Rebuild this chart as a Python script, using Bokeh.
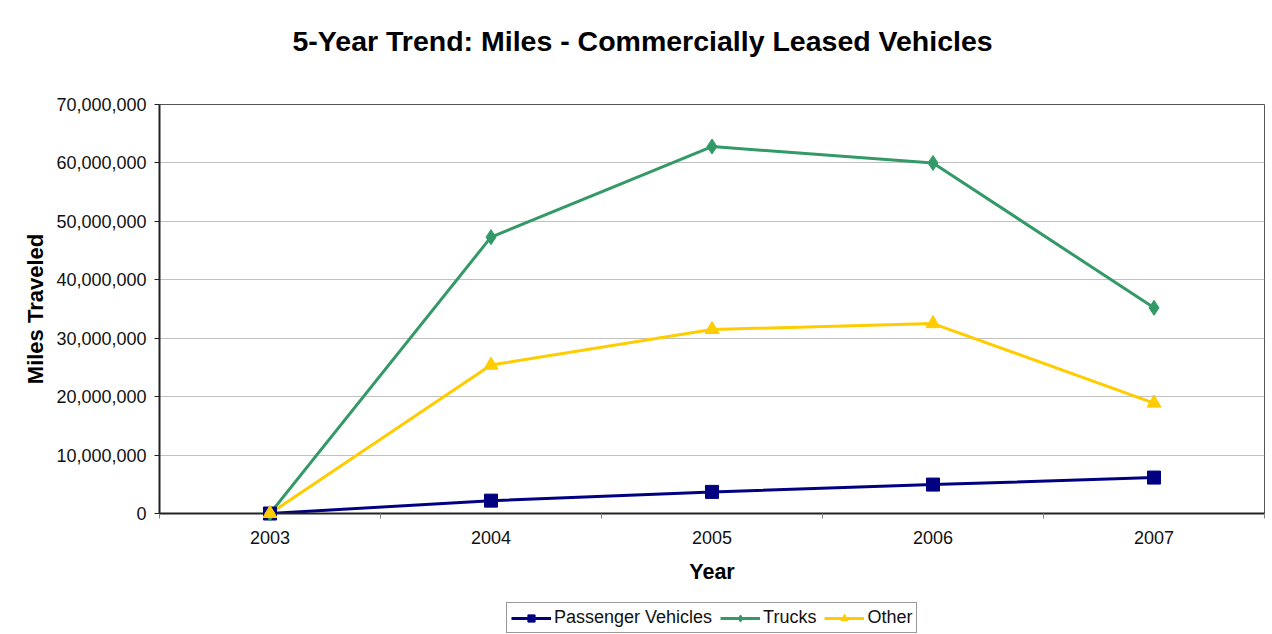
from bokeh.plotting import figure
from bokeh.layouts import column
from bokeh.models import (Range1d, FixedTicker, NumeralTickFormatter, Legend, LegendItem, ColumnDataSource)
from bokeh.embed import file_html
from bokeh.resources import INLINE

years = ["2003", "2004", "2005", "2006", "2007"]
passenger = [0, 2200000, 3700000, 4950000, 6150000]
trucks = [0, 47300000, 62800000, 60000000, 35200000]
other = [0, 25400000, 31500000, 32500000, 18900000]

xpos = [i + 0.5 for i in range(len(years))]


def strip(height, top=0):
    f = figure(width=1268, height=height, output_backend="svg", toolbar_location=None,
               x_range=Range1d(-20, -19), y_range=Range1d(-20, -19),
               min_border_left=159, min_border_right=4, min_border_top=top, min_border_bottom=0)
    f.xaxis.visible = False
    f.yaxis.visible = False
    f.xgrid.visible = False
    f.ygrid.visible = False
    f.outline_line_color = None
    f.background_fill_color = "white"
    f.border_fill_color = "white"
    return f


# title strip on top
tf = strip(60, top=56)
tf.title.text = "5-Year Trend: Miles - Commercially Leased Vehicles"
tf.title.text_font = "Liberation Sans"
tf.title.text_font_size = "28.5px"
tf.title.text_font_style = "bold"
tf.title.text_color = "#000000"
tf.title.align = "left"
tf.title.offset = 133
tf.title.standoff = 0

p = figure(width=1268, height=532, output_backend="svg", toolbar_location=None,
           x_range=Range1d(0, len(years)), y_range=Range1d(0, 70000000),
           min_border_left=159, min_border_right=4, min_border_top=44, min_border_bottom=79)

p.outline_line_color = "#555555"
p.outline_line_width = 1
p.background_fill_color = "white"
p.border_fill_color = "white"

# x axis
xa = p.xaxis[0]
xa.ticker = FixedTicker(ticks=xpos, minor_ticks=list(range(len(years) + 1)))
xa.major_label_overrides = {x: y for x, y in zip(xpos, years)}
xa.major_tick_out = 0
xa.major_tick_in = 0
xa.minor_tick_out = 5
xa.minor_tick_in = 0
xa.minor_tick_line_color = "#808080"
xa.axis_line_color = "#222222"
xa.axis_line_width = 2
xa.major_label_text_font = "Liberation Sans"
xa.major_label_text_font_size = "18px"
xa.major_label_text_color = "#111111"
xa.major_label_standoff = 12
xa.axis_label = "Year"
xa.axis_label_text_font = "Liberation Sans"
xa.axis_label_text_font_size = "21.5px"
xa.axis_label_text_font_style = "bold"
xa.axis_label_text_color = "#000000"
xa.axis_label_standoff = 13

ya = p.yaxis[0]
ya.ticker = FixedTicker(ticks=[i * 10000000 for i in range(8)])
ya.formatter = NumeralTickFormatter(format="0,0")
ya.major_tick_out = 5
ya.major_tick_in = 0
ya.minor_tick_line_color = None
ya.major_tick_line_color = "#222222"
ya.axis_line_color = "#222222"
ya.axis_line_width = 2
ya.major_label_text_font = "Liberation Sans"
ya.major_label_text_font_size = "18px"
ya.major_label_text_color = "#111111"
ya.major_label_standoff = 8
ya.axis_label = "Miles Traveled"
ya.axis_label_text_font = "Liberation Sans"
ya.axis_label_text_font_size = "22px"
ya.axis_label_text_font_style = "bold"
ya.axis_label_text_color = "#000000"
ya.axis_label_standoff = 5

p.xgrid.grid_line_color = None
p.ygrid.grid_line_color = "#c0c0c0"
p.ygrid.grid_line_width = 1

series = [
    ("Passenger Vehicles", passenger, "#000080", "square", 13),
    ("Trucks", trucks, "#339966", "diamond", 15),
    ("Other", other, "#FFCC00", "triangle", 14),
]

# legend strip below the chart (its view range shows none of the data)
lg = strip(42)

items = []
for name, vals, color, marker, size in series:
    src = ColumnDataSource(dict(x=xpos, y=vals))
    p.line("x", "y", source=src, line_color=color, line_width=3)
    p.scatter("x", "y", source=src, marker=marker, size=size,
              fill_color=color, line_color=color, level="overlay")
    l2 = lg.line("x", "y", source=src, line_color=color, line_width=3)
    s2 = lg.scatter("x", "y", source=src, marker=marker, size=size,
                    fill_color=color, line_color=color)
    items.append(LegendItem(label=name, renderers=[l2, s2]))

legend = Legend(items=items, orientation="horizontal", location=(347, 1),
                label_text_font="Liberation Sans", label_text_font_size="18px",
                label_text_color="#111111",
                glyph_width=40, glyph_height=18, spacing=8, label_standoff=3,
                padding=4, margin=0,
                border_line_color="#333333", border_line_width=1,
                background_fill_alpha=1)
lg.add_layout(legend)

layout = column(tf, p, lg, spacing=0)
open("out.html", "w").write(file_html(layout, INLINE))
